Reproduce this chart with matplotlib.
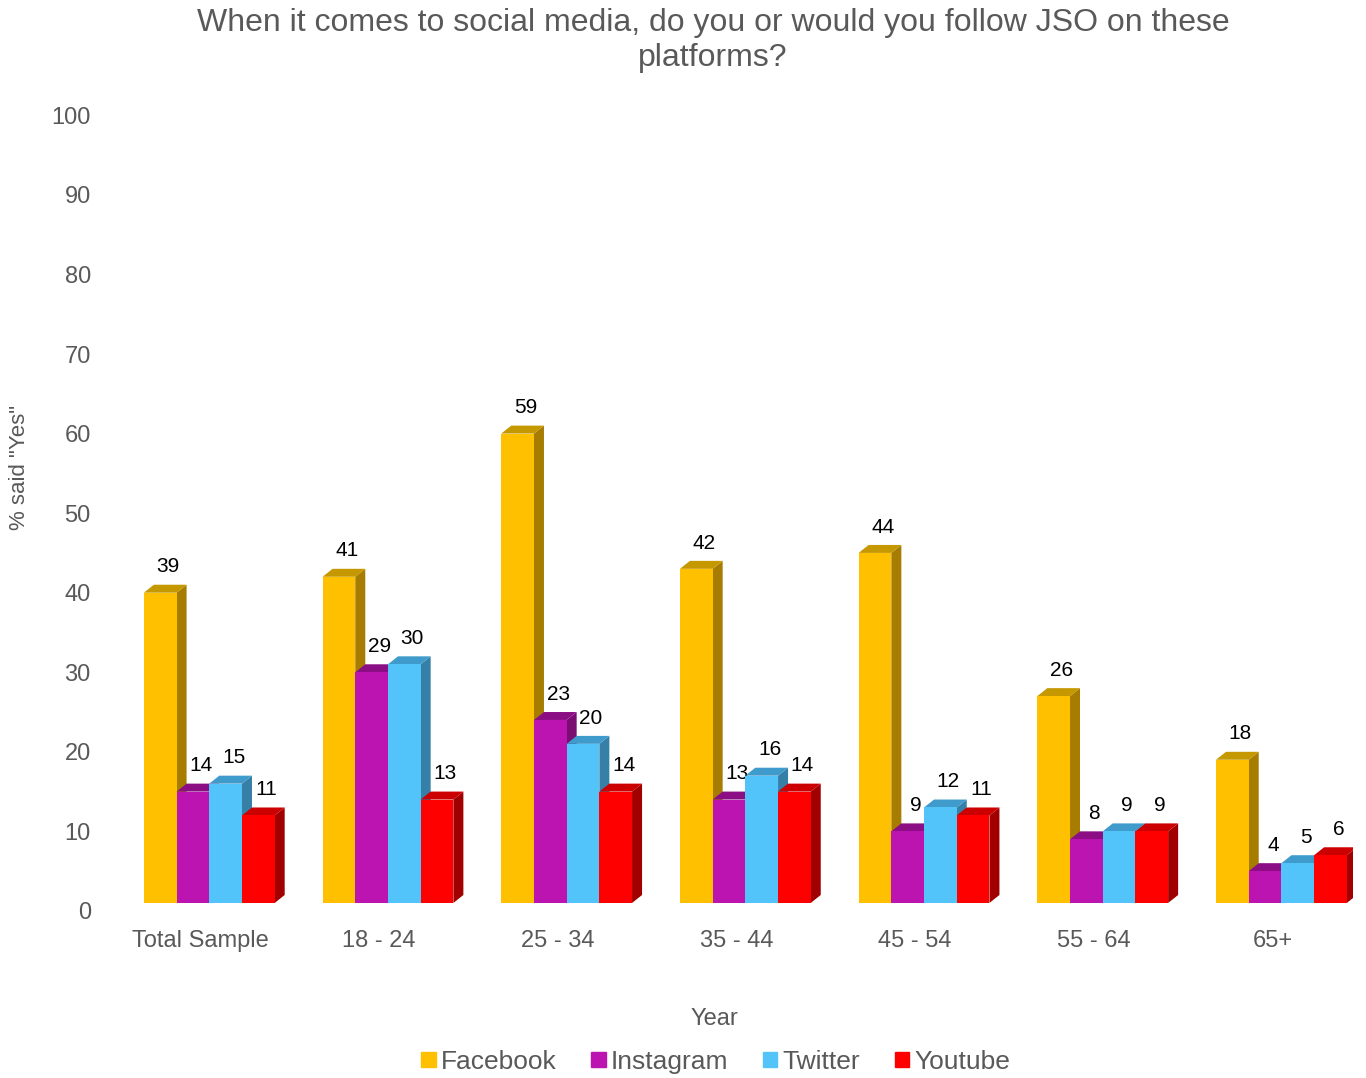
import matplotlib.pyplot as plt
from matplotlib.patches import Patch
import numpy as np

plt.rcParams['font.family'] = ['Liberation Sans', 'DejaVu Sans']

categories = ['Total Sample', '18 - 24', '25 - 34', '35 - 44', '45 - 54', '55 - 64', '65+']
series = ['Facebook', 'Instagram', 'Twitter', 'Youtube']
facebook = [39, 41, 59, 42, 44, 26, 18]
instagram = [14, 29, 23, 13, 9, 8, 4]
twitter = [15, 30, 20, 16, 12, 9, 5]
youtube = [11, 13, 14, 14, 11, 9, 6]

# front, top, side colours
colors = {
    'Facebook': ('#FFC000', '#C69800', '#A67D00'),
    'Instagram': ('#BC14B0', '#8C0E84', '#7A0C72'),
    'Twitter': ('#52C4FA', '#3F9BCB', '#3680A8'),
    'Youtube': ('#FF0000', '#CC0000', '#A00000'),
}

grey = '#595959'
fig = plt.figure(figsize=(13.66, 10.78), dpi=100)
ax = fig.add_axes([0.0878, 0.155, 0.9026, 0.738])

w = 0.183
dx, dy = 0.056, 1.0
floor = 1.0
x = np.arange(len(categories))
data = [facebook, instagram, twitter, youtube]

z = 2
for i in range(len(categories)):
    for k, name in enumerate(series):
        v = data[k][i]
        front, top, side = colors[name]
        x0 = x[i] + (k - 2) * w
        x1 = x0 + w
        y0, y1 = floor, floor + v
        ax.fill([x1, x1 + dx, x1 + dx, x1], [y0, y0 + dy, y1 + dy, y1], color=side, zorder=z, lw=0)
        ax.fill([x0, x0 + dx, x1 + dx, x1], [y1, y1 + dy, y1 + dy, y1], color=top, zorder=z, lw=0)
        ax.bar(x0, v, width=w, bottom=floor, align='edge', color=front, zorder=z + 1, lw=0)
        ax.annotate(str(v), (x0 + w / 2 + dx * 0.8, y1 + dy), xytext=(0, 6), textcoords='offset points',
                    ha='center', va='bottom', fontsize=15, color='black', zorder=z + 2)
        z += 3

ax.set_xlim(-0.5, 6.4)
ax.set_ylim(0, 100)
ax.set_yticks(range(0, 101, 10))
ax.set_xticks(x - 0.05)
ax.set_xticklabels(categories)
ax.tick_params(axis='both', length=0, labelsize=17, labelcolor=grey)
ax.tick_params(axis='x', pad=14)
ax.tick_params(axis='y', pad=21)
for s in ax.spines.values():
    s.set_visible(False)

fig.text(20 / 1366, 1 - 467 / 1078, '% said "Yes"', rotation=90, ha='center', va='center',
         fontsize=16, color=grey)
fig.text(0.523, 0.055, 'Year', ha='center', va='center', fontsize=17, color=grey)
fig.suptitle('When it comes to social media, do you or would you follow JSO on these\nplatforms?',
             x=0.522, y=0.993, fontsize=23, color=grey, linespacing=1.25)

handles = [Patch(color=colors[n][0]) for n in series]
fig.legend(handles, series, loc='center', bbox_to_anchor=(0.524, 0.015), ncol=4, frameon=False,
           fontsize=19, labelcolor=grey, handlelength=0.55, handleheight=0.55, handletextpad=0.2,
           columnspacing=1.3)

fig.savefig('out.png', dpi=100)
